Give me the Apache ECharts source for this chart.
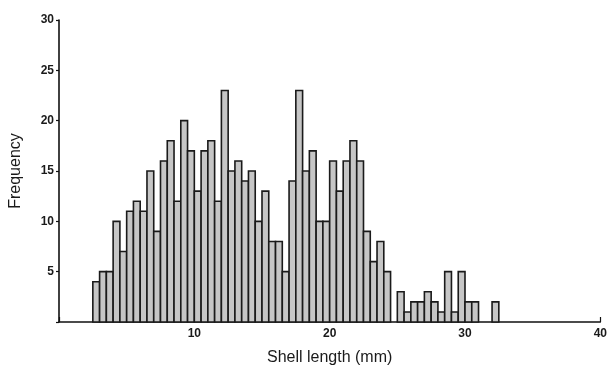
<!DOCTYPE html>
<html>
<head>
<meta charset="utf-8">
<script src="https://cdn.jsdelivr.net/npm/echarts@6/dist/echarts.min.js"></script>
<style>
html,body{margin:0;padding:0;background:#fff;}
#chart{width:610px;height:371px;}
</style>
</head>
<body>
<div id="chart"></div>
<script>
// Histogram bins: left edge of each 0.5 mm bin (mm)
var binStarts = [2.5,3.0,3.5,4.0,4.5,5.0,5.5,6.0,6.5,7.0,
                 7.5,8.0,8.5,9.0,9.5,10.0,10.5,11.0,11.5,12.0,
                 12.5,13.0,13.5,14.0,14.5,15.0,15.5,16.0,16.5,17.0,
                 17.5,18.0,18.5,19.0,19.5,20.0,20.5,21.0,21.5,22.0,
                 22.5,23.0,23.5,24.0,24.5,25.0,25.5,26.0,26.5,27.0,
                 27.5,28.0,28.5,29.0,29.5,30.0,30.5,31.0,31.5,32.0];
var binWidth = 0.5;
var frequency = [4,5,5,10,7,11,12,11,15,9,
                 16,18,12,20,17,13,17,18,12,23,
                 15,16,14,15,10,13,8,8,5,14,
                 23,15,17,10,10,16,13,16,18,16,
                 9,6,8,5,0,3,1,2,2,3,
                 2,1,5,1,5,2,2,0,0,2];
var xTicks = [10,20,30,40];
var yTicks = [5,10,15,20,25,30];

var data = binStarts.map(function(s,i){ return [s, frequency[i]]; });

var chart = echarts.init(document.getElementById('chart'));
chart.setOption({
  animation:false,
  backgroundColor:'#ffffff',
  grid:{left:56,right:9,top:20,bottom:46,containLabel:false},
  xAxis:{
    type:'value',min:0,max:40,interval:10,
    name:'Shell length (mm)',nameLocation:'middle',nameGap:28,
    nameTextStyle:{fontFamily:'Liberation Sans',fontSize:16,color:'#1a1a1a'},
    axisLine:{lineStyle:{color:'#111',width:1.6}},
    axisTick:{show:true,inside:true,length:5,lineStyle:{color:'#111',width:1.2}},
    axisLabel:{fontFamily:'Liberation Sans',fontSize:12,fontWeight:'bold',color:'#1a1a1a',margin:6,
      formatter:function(v){return xTicks.indexOf(v)>=0?String(v):'';}},
    splitLine:{show:false}
  },
  yAxis:{
    type:'value',min:0,max:30,interval:5,
    name:'Frequency',nameLocation:'middle',nameGap:35,nameRotate:90,
    nameTextStyle:{fontFamily:'Liberation Sans',fontSize:16,color:'#1a1a1a'},
    axisLine:{show:true,lineStyle:{color:'#111',width:1.6}},
    axisTick:{show:true,inside:false,length:3,lineStyle:{color:'#111',width:1.2}},
    axisLabel:{fontFamily:'Liberation Sans',fontSize:12,fontWeight:'bold',color:'#1a1a1a',margin:5,
      formatter:function(v){return yTicks.indexOf(v)>=0?String(v):'';}},
    splitLine:{show:false}
  },
  series:[{
    type:'custom',
    data:data,
    encode:{x:0,y:1},
    renderItem:function(params,api){
      var s = api.value(0), v = api.value(1);
      if(!v) return null;
      var p0 = api.coord([s, v]);
      var p1 = api.coord([s + binWidth, 0]);
      return {
        type:'rect',
        shape:{x:p0[0], y:p0[1], width:p1[0]-p0[0], height:p1[1]-p0[1]},
        style:{fill:'#c6c6c6', stroke:'#1a1a1a', lineWidth:1.6}
      };
    }
  }]
});
</script>
</body>
</html>
